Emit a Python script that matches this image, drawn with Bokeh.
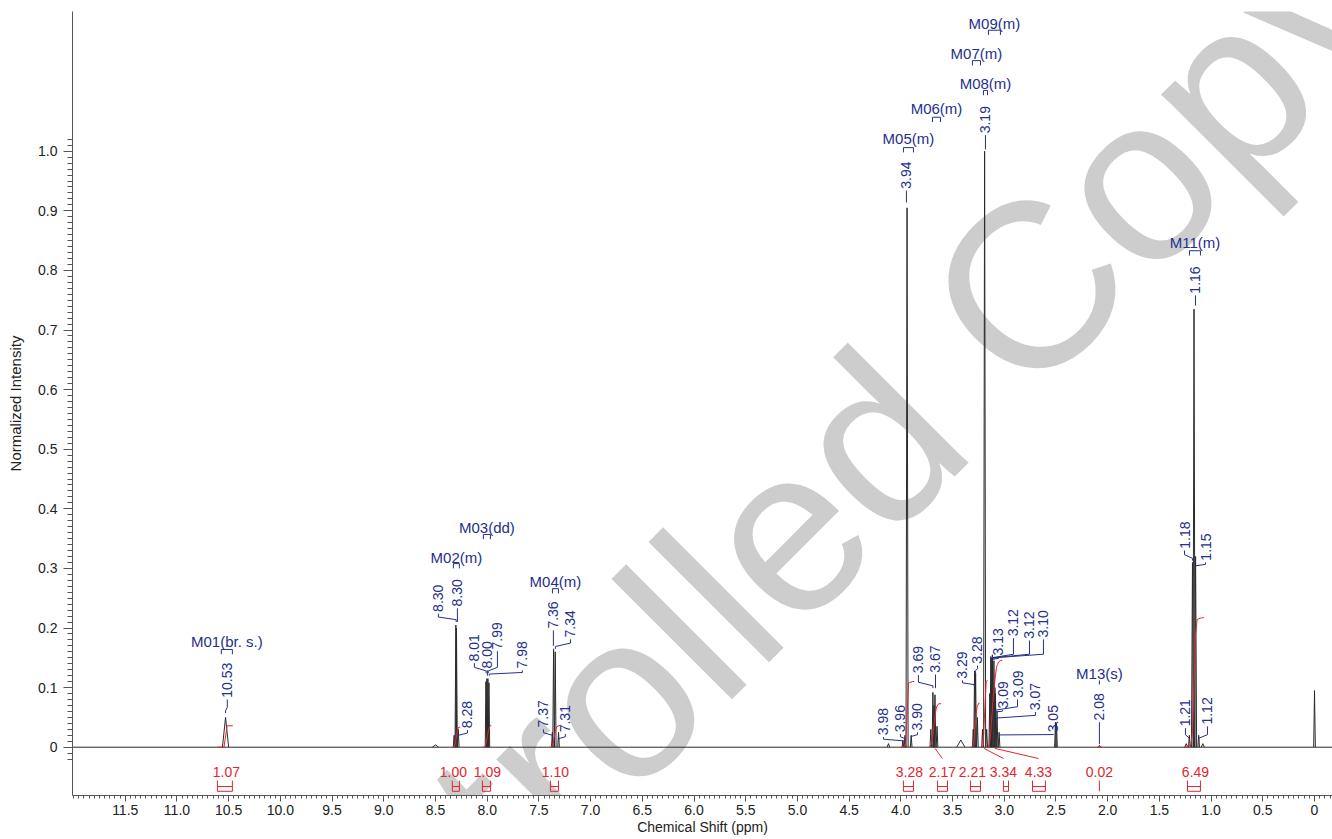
import numpy as np
from bokeh.plotting import figure
from bokeh.models import Range1d, FixedTicker, Label, PrintfTickFormatter
from bokeh.core.properties import value
from bokeh.embed import file_html
from bokeh.resources import INLINE

FONT = "Liberation Sans"
BLUE = "#25308c"
RED = "#e4252d"
INK = "#2b2b2b"

# ---------------- spectrum peaks ----------------
peak_ppm = [10.53, 8.50, 8.32, 8.303, 8.297, 8.28,
            8.012, 8.003, 7.993, 7.983,
            7.37, 7.358, 7.342, 7.31,
            4.12, 3.98, 3.96, 3.94, 3.90,
            3.71, 3.69, 3.68, 3.67, 3.65, 3.42,
            3.30, 3.287, 3.277, 3.26,
            3.21, 3.19, 3.17,
            3.14, 3.13, 3.12, 3.115, 3.10, 3.09, 3.085, 3.07, 3.05,
            2.505, 2.495, 2.08,
            1.24, 1.21, 1.18, 1.165, 1.15, 1.12, 1.08, 0.00]
peak_height = [0.050, 0.004, 0.020, 0.205, 0.200, 0.030,
               0.110, 0.115, 0.115, 0.108,
               0.025, 0.165, 0.160, 0.025,
               0.006, 0.012, 0.020, 0.905, 0.020,
               0.030, 0.092, 0.070, 0.088, 0.035, 0.012,
               0.030, 0.128, 0.125, 0.050,
               0.030, 1.000, 0.030,
               0.090, 0.152, 0.150, 0.155, 0.145, 0.100, 0.090, 0.060, 0.025,
               0.042, 0.040, 0.003,
               0.006, 0.020, 0.310, 0.735, 0.320, 0.020, 0.006, 0.095]
peak_halfwidth = [0.030, 0.030, 0.008, 0.008, 0.008, 0.008,
                  0.007, 0.007, 0.007, 0.007,
                  0.008, 0.008, 0.008, 0.008,
                  0.012, 0.008, 0.008, 0.010, 0.008,
                  0.008, 0.008, 0.008, 0.008, 0.008, 0.040,
                  0.008, 0.008, 0.008, 0.008,
                  0.008, 0.010, 0.008,
                  0.008, 0.008, 0.008, 0.008, 0.008, 0.008, 0.008, 0.008, 0.008,
                  0.008, 0.008, 0.010,
                  0.015, 0.008, 0.010, 0.010, 0.010, 0.008, 0.015, 0.008]

# ---------------- peak picking labels ----------------
peak_label = ["10.53", "8.30", "8.30", "8.28", "8.01", "8.00", "7.99", "7.98",
              "7.37", "7.36", "7.34", "7.31", "3.98", "3.96", "3.94", "3.90",
              "3.69", "3.67", "3.29", "3.28", "3.19", "3.13", "3.12", "3.12",
              "3.10", "3.09", "3.09", "3.07", "3.05", "2.08", "1.21", "1.18",
              "1.16", "1.15", "1.12"]
# layout of the rotated labels (ppm of text, intensity of text start, leader end)
label_x = [10.513, 8.472, 8.288, 8.191, 8.124, 7.998, 7.901, 7.660,
           7.456, 7.360, 7.195, 7.244, 4.168, 4.004, 3.946, 3.839,
           3.830, 3.665, 3.404, 3.259, 3.182, 3.056, 2.911, 2.756,
           2.621, 3.017, 2.872, 2.698, 2.524, 2.080, 1.248, 1.257,
           1.151, 1.054, 1.035]
label_bottom = [0.083, 0.227, 0.236, 0.032, 0.144, 0.132, 0.164, 0.132,
                0.033, 0.199, 0.184, 0.025, 0.020, 0.025, 0.937, 0.028,
                0.124, 0.125, 0.115, 0.140, 1.030, 0.154, 0.186, 0.182,
                0.184, 0.065, 0.083, 0.062, 0.025, 0.045, 0.035, 0.333,
                0.761, 0.313, 0.038]
leader_end = [0.057, 0.210, 0.210, 0.016, 0.124, 0.120, 0.124, 0.120,
              0.016, 0.170, 0.165, 0.011, 0.008, 0.011, 0.914, 0.015,
              0.099, 0.099, 0.102, 0.124, 1.003, 0.146, 0.146, 0.146,
              0.146, 0.058, 0.058, 0.045, 0.020, 0.005, 0.011, 0.313,
              0.741, 0.302, 0.011]

# ---------------- multiplets ----------------
mult_name = ["M01(br. s.)", "M02(m)", "M03(dd)", "M04(m)", "M05(m)", "M06(m)",
             "M07(m)", "M08(m)", "M09(m)", "M11(m)", "M13(s)"]
mult_from = [10.571, 8.327, 8.037, 7.369, 3.975, 3.694, 3.308, 3.201, 3.153, 1.209, 2.08]
mult_to = [10.464, 8.269, 7.969, 7.311, 3.878, 3.617, 3.230, 3.162, 3.037, 1.103, 2.08]
mult_label_y = [0.177, 0.318, 0.369, 0.278, 1.021, 1.072, 1.164, 1.114, 1.214, 0.847, 0.124]
mult_bracket_top = [0.164, 0.308, 0.357, 0.266, 1.006, 1.057, 1.152, 1.102, 1.203, 0.833, 0.112]

# ---------------- integrals ----------------
integral_value = [1.07, 1.00, 1.09, 1.10, 3.28, 2.17, 2.21, 3.34, 4.33, 0.02, 6.49]
integral_from = [10.61, 8.34, 8.05, 7.40, 4.00, 3.73, 3.33, 3.23, 3.16, 2.10, 1.26]
integral_to = [10.46, 8.26, 7.96, 7.29, 3.87, 3.61, 3.24, 3.16, 3.02, 2.06, 1.07]
integral_label_x = [10.522, 8.327, 7.998, 7.340, 3.917, 3.598, 3.308, 3.008, 2.669, 2.080, 1.151]
integral_br_left = [10.609, 8.337, 8.046, 7.389, 3.975, 3.646, 3.327, 3.008, 2.727, 2.080, 1.228]
integral_br_right = [10.464, 8.269, 7.969, 7.311, 3.878, 3.549, 3.230, 2.959, 2.602, 2.080, 1.103]
INTEGRAL_SCALE = 0.0336

X_LEFT, X_RIGHT = 12.01, -0.174
Y_TOP = 1.2344
Y_BOTTOM = Y_TOP - 784 / 596.0

p = figure(width=1332, height=839,
           x_range=Range1d(X_LEFT, X_RIGHT), y_range=Range1d(Y_BOTTOM, Y_TOP),
           output_backend="svg", toolbar_location=None,
           min_border_left=72, min_border_right=0, min_border_top=11, min_border_bottom=44)
p.outline_line_color = None
p.grid.grid_line_color = None
p.background_fill_color = "white"
p.border_fill_color = "white"

# watermark
p.add_layout(Label(x=5.36, y=0.321, text="Controlled Copy", angle=np.pi / 4,
                   text_align="center", text_baseline="alphabetic",
                   text_font=FONT, text_font_size="235px", text_color="#cdcdcd",
                   level="underlay"))

# ---------------- axes ----------------
xa = p.xaxis[0]
xa.ticker = FixedTicker(ticks=[0.5 * i for i in range(24)],
                        minor_ticks=[round(0.05 * i - 0.15, 2) for i in range(244)])
xa.formatter = PrintfTickFormatter(format="%.1f")
xa.major_label_overrides = {0: "0"}
xa.axis_label = "Chemical Shift (ppm)"
xa.axis_label_text_font = FONT
xa.axis_label_text_font_style = "normal"
xa.axis_label_text_font_size = "14px"
xa.axis_label_standoff = 1
xa.major_label_text_font = FONT
xa.major_label_text_font_size = "14px"
xa.major_label_standoff = 3
xa.major_tick_out = 6
xa.major_tick_in = 0
xa.minor_tick_out = 3
xa.minor_tick_in = 0

ya = p.yaxis[0]
ya.ticker = FixedTicker(ticks=[round(0.1 * i, 1) for i in range(11)],
                        minor_ticks=[round(0.01 * i - 0.02, 2) for i in range(105)])
ya.formatter = PrintfTickFormatter(format="%.1f")
ya.major_label_overrides = {0: "0"}
ya.axis_label = "Normalized Intensity"
ya.axis_label_text_font = FONT
ya.axis_label_text_font_style = "normal"
ya.axis_label_text_font_size = "15px"
ya.axis_label_standoff = 11
ya.major_label_text_font = FONT
ya.major_label_text_font_size = "14px"
ya.major_label_standoff = 6
ya.major_tick_out = 9
ya.major_tick_in = 0
ya.minor_tick_out = 5
ya.minor_tick_in = 0

for ax in (xa, ya):
    ax.axis_line_color = "#555555"
    ax.major_tick_line_color = "#555555"
    ax.minor_tick_line_color = "#555555"
    ax.major_label_text_color = "#222222"
    ax.axis_label_text_color = "#222222"

# ---------------- spectrum ----------------
p.line([X_LEFT, X_RIGHT], [0, 0], line_color=INK, line_width=1)
spec_xs = [[c + w, c, c - w] for c, w in zip(peak_ppm, peak_halfwidth)]
spec_ys = [[0, h, 0] for h in peak_height]
p.multi_line(spec_xs, spec_ys, line_color=INK, line_width=1)

# ---------------- integral curves ----------------
pp = np.array(peak_ppm)
hh = np.array(peak_height)
ww = np.array(peak_halfwidth)
s = 0.015
int_xs, int_ys = [], []
for v, a, b in zip(integral_value, integral_from, integral_to):
    m = (pp <= a) & (pp >= b)
    P = pp[m]
    A = hh[m] * ww[m]
    H = v * INTEGRAL_SCALE
    bps = sorted(set([a, b] + list(P + s) + list(P - s)), reverse=True)
    bps = [x for x in bps if b <= x <= a]
    ys = []
    for x in bps:
        frac = np.clip((P + s - x) / (2 * s), 0, 1)
        ys.append(float(H * (A * frac).sum() / A.sum()) if A.sum() > 0 else 0.0)
    int_xs.append(bps)
    int_ys.append(ys)
p.multi_line(int_xs, int_ys, line_color=RED, line_width=1)

# integral labels and brackets
IL_Y, IB_TOP, IB_MID, IB_BOT = -0.041, -0.056, -0.066, -0.074
p.text(x=integral_label_x, y=[IL_Y] * len(integral_value),
       text=[f"{v:.2f}" for v in integral_value],
       text_align="center", text_baseline="middle",
       text_font=value(FONT), text_font_size="14px", text_color=RED)
br_xs, br_ys = [], []
for l, r in zip(integral_br_left, integral_br_right):
    if abs(l - r) < 1e-6:
        br_xs.append([l, l]); br_ys.append([IB_TOP, IB_BOT])
    else:
        br_xs.append([l, l, r, r]); br_ys.append([IB_TOP, IB_BOT, IB_BOT, IB_TOP])
        br_xs.append([l, r]); br_ys.append([IB_MID, IB_MID])
# connectors for displaced labels
for a, b, lx in zip(integral_from, integral_to, integral_label_x):
    mid = 0.5 * (a + b)
    if abs(mid - lx) > 0.05:
        br_xs.append([mid, lx]); br_ys.append([-0.002, -0.019])
p.multi_line(br_xs, br_ys, line_color=RED, line_width=1)

# ---------------- peak labels ----------------
p.text(x=label_x, y=label_bottom, text=peak_label, angle=np.pi / 2,
       text_align="left", text_baseline="middle",
       text_font=value(FONT), text_font_size="14px", text_color=BLUE)
ld_xs, ld_ys = [], []
for lx, lb, te, t in zip(label_x, label_bottom, leader_end, peak_label):
    tx = float(t)
    top = lb - 0.003
    gap = top - te
    if abs(lx - tx) > 0.015:
        elbow = te + min(0.010, 0.6 * gap)
        mid = te + min(0.004, 0.3 * gap)
        ld_xs.append([lx, lx, tx, tx]); ld_ys.append([top, elbow, mid, te])
    else:
        ld_xs.append([lx, lx]); ld_ys.append([top, te])
p.multi_line(ld_xs, ld_ys, line_color=BLUE, line_width=1)

# ---------------- multiplet labels ----------------
p.text(x=[0.5 * (a + b) for a, b in zip(mult_from, mult_to)], y=mult_label_y,
       text=mult_name, text_align="center", text_baseline="middle",
       text_font=value(FONT), text_font_size="15px", text_color=BLUE)
mb_xs, mb_ys = [], []
for a, b, t in zip(mult_from, mult_to, mult_bracket_top):
    if abs(a - b) < 1e-6:
        mb_xs.append([a, a]); mb_ys.append([t, t - 0.007])
    else:
        mb_xs.append([a, a, b, b]); mb_ys.append([t - 0.008, t, t, t - 0.008])
p.multi_line(mb_xs, mb_ys, line_color=BLUE, line_width=1)

open("out.html", "w").write(file_html(p, INLINE))
